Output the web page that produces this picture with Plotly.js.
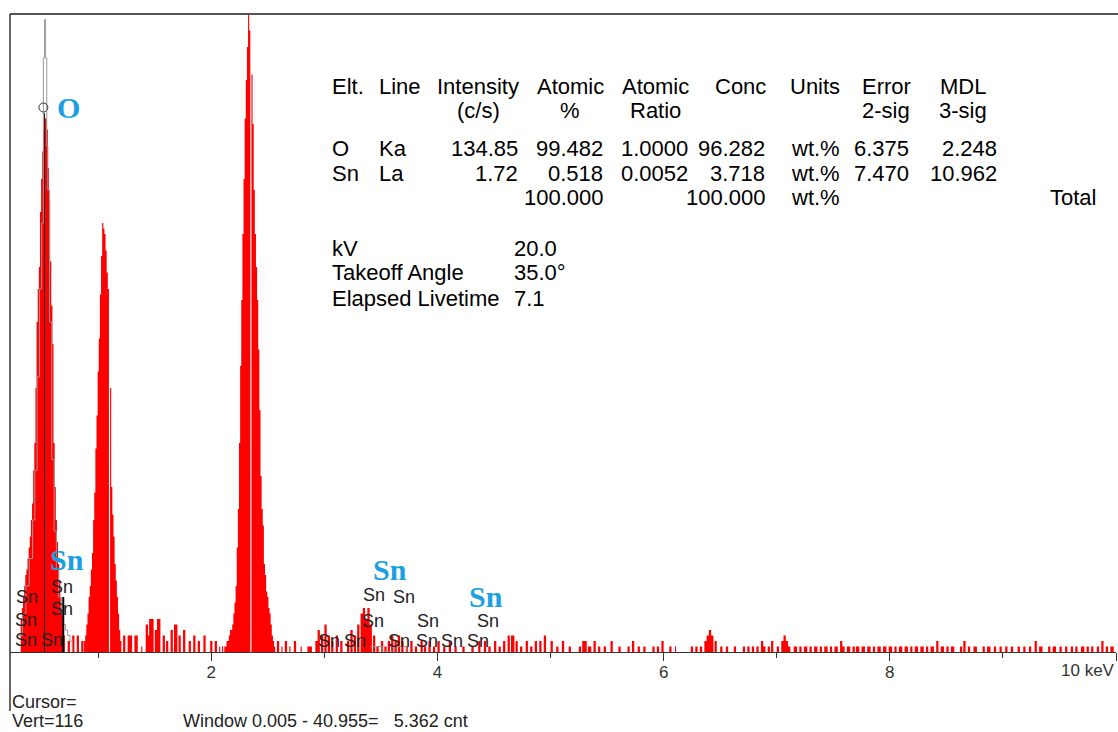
<!DOCTYPE html>
<html>
<head>
<meta charset="utf-8">
<script src="https://cdn.plot.ly/plotly-3.0.1.min.js"></script>
<style>
  html, body { margin: 0; padding: 0; background: #fff; }
  #chart { width: 1118px; height: 732px; }
</style>
</head>
<body>
<div id="chart"></div>
<script>
// ---------------- Spectrum data (energy in keV, counts per 10 eV channel) ----------------
// O K-alpha peak
const oPeakE = [0.32,0.33,0.34,0.35,0.36,0.37,0.38,0.39,0.40,0.41,0.42,0.43,0.44,0.45,0.46,0.47,0.48,0.49,0.50,0.51,
                0.52,0.53,0.54,0.55,0.56,0.57,0.58,0.59,0.60,0.61,0.62,0.63,0.64,0.65,0.66,0.67,0.68,0.69,0.70];
const oPeakCounts = [6,8,10,12,14,15,17,19,21,24,27,33,38,48,60,66,70,80,86,91,
                     95,97,97,95,88,82,71,63,56,38,30,24,20,16,13,10,7,5,3];

// peak near 1.05 keV
const naPeakE = [0.88,0.89,0.90,0.91,0.92,0.93,0.94,0.95,0.96,0.97,0.98,0.99,1.00,1.01,1.02,1.03,1.04,
                 1.05,1.06,1.07,1.08,1.09,1.10,1.11,1.12,1.13,1.14,1.15,1.16,1.17,1.18,1.19,1.20];
const naPeakCounts = [2,3,5,7,10,12,15,18,24,29,37,43,51,57,65,72,78,
                      77,76,73,69,66,0,48,30,25,21,16,13,10,7,4,2];

// peak near 2.33 keV (top runs off scale)
const sPeakE = [2.10,2.11,2.12,2.13,2.14,2.15,2.16,2.17,2.18,2.19,2.20,2.21,2.22,2.23,2.24,2.25,2.26,2.27,2.28,2.29,
                2.30,2.31,2.32,2.33,2.34,2.35,2.36,2.37,2.38,2.39,2.40,2.41,2.42,2.43,2.44,2.45,2.46,2.47,2.48,2.49,
                2.50,2.51,2.52,2.53,2.54,2.55,2.56];
const sPeakCounts = [1,0,1,1,2,2,3,4,4,5,7,9,12,19,26,38,52,64,76,86,
                     97,104,110,128,113,0,105,96,84,76,70,64,55,44,32,26,23,16,14,11,
                     10,8,7,5,3,2,1];

// background: runs of channels [start keV, end keV, counts]
const bgLow = [
  [0.73,0.75,2],[0.77,0.79,3],[0.81,0.83,3],[0.85,0.87,2],
  [1.22,1.24,3],[1.26,1.30,3],[1.32,1.35,3],[1.38,1.39,1],[1.42,1.44,5],[1.44,1.45,3],
  [1.45,1.49,6],[1.50,1.52,4],[1.52,1.55,6],[1.57,1.59,3],[1.60,1.62,2],[1.64,1.66,4],
  [1.67,1.70,5],[1.71,1.73,3],[1.75,1.77,4],[1.80,1.82,2],[1.84,1.86,3],[1.88,1.90,2],
  [1.93,1.95,3],[1.99,2.01,2],[2.03,2.05,2],[2.07,2.08,1]
];
const bgMid = [
  [2.58,2.60,2],[2.62,2.63,1],[2.65,2.67,2],[2.69,2.70,1],[2.73,2.75,2],[2.79,2.80,1],
  [2.85,2.89,1],[2.92,2.94,2],[2.94,2.96,4],[2.97,2.99,3],[3.00,3.02,5],[3.03,3.05,3],
  [3.06,3.08,2],[3.10,3.12,3],[3.14,3.16,2],[3.20,3.22,2],[3.23,3.25,4],[3.26,3.28,3],
  [3.29,3.31,5],[3.32,3.34,7],[3.34,3.36,8],[3.36,3.38,6],[3.38,3.40,8],[3.40,3.42,5],
  [3.43,3.45,3],[3.46,3.48,1],[3.50,3.52,2],[3.53,3.55,1],[3.56,3.58,2],[3.59,3.61,3],
  [3.62,3.64,2],[3.65,3.67,3],[3.68,3.70,2],[3.72,3.74,1],[3.76,3.78,2],[3.80,3.82,1],
  [3.85,3.87,2],[3.88,3.90,1],[3.92,3.94,2],[3.96,3.98,1],[4.00,4.02,2],[4.05,4.07,1],
  [4.10,4.12,2],[4.15,4.17,1],[4.22,4.24,1],[4.30,4.32,1],[4.36,4.38,2],[4.41,4.43,2],
  [4.45,4.47,1],[4.50,4.52,2],[4.54,4.56,1],[4.58,4.60,2],[4.62,4.64,3],[4.65,4.68,3],
  [4.69,4.71,2],[4.73,4.75,1],[4.78,4.80,2],[4.82,4.84,1],[4.86,4.88,2],[4.90,4.92,2],
  [4.94,4.96,3]
];
const bgHigh = [
  [5.00,5.02,2],[5.05,5.07,1],[5.10,5.12,2],[5.16,5.18,1],[5.25,5.27,1],[5.28,5.32,2],
  [5.33,5.36,1],[5.38,5.40,2],[5.42,5.44,1],[5.47,5.49,1],[5.53,5.55,2],[5.60,5.62,1],
  [5.68,5.70,1],[5.72,5.74,2],[5.77,5.79,1],[5.82,5.84,1],[5.90,5.92,1],[5.94,5.96,1],
  [5.98,6.00,2],[6.05,6.07,1],[6.10,6.11,1],[6.24,6.26,1],[6.28,6.30,1],[6.32,6.34,1],
  [6.36,6.38,2],[6.38,6.40,3],[6.40,6.42,4],[6.42,6.44,3],[6.45,6.47,2],[6.50,6.52,1],
  [6.55,6.57,1],[6.62,6.64,1],[6.70,6.72,1],[6.74,6.76,1],[6.78,6.80,1],[6.82,6.84,1],
  [6.86,6.88,2],[6.88,6.90,1],[6.92,6.94,1],[6.95,6.97,2],[7.00,7.02,1],[7.04,7.06,2],
  [7.06,7.08,3],[7.08,7.10,2],[7.10,7.12,1],[7.15,7.18,1],[7.20,7.22,1],[7.24,7.27,1],
  [7.29,7.31,1],[7.33,7.36,1],[7.38,7.40,1],[7.42,7.45,1],[7.47,7.49,1],[7.51,7.54,1],
  [7.56,7.58,2],[7.58,7.60,1],[7.62,7.65,1],[7.67,7.69,1],[7.70,7.73,1],[7.75,7.78,1],
  [7.80,7.83,1],[7.85,7.87,1],[7.89,7.92,1],[7.94,7.97,1],[7.99,8.02,1],[8.04,8.06,1],
  [8.08,8.11,1],[8.13,8.16,1],[8.18,8.20,1],[8.22,8.25,1],[8.27,8.30,1],[8.32,8.34,1],
  [8.36,8.39,1],[8.41,8.43,2],[8.45,8.48,1],[8.50,8.52,1],[8.54,8.57,1],[8.62,8.64,1],
  [8.65,8.67,2],[8.69,8.71,1],[8.74,8.77,1],[8.82,8.84,1],[8.86,8.89,1],[8.92,8.94,1],
  [8.97,8.99,1],[9.02,9.04,1],[9.07,9.09,1],[9.13,9.15,1],[9.18,9.20,1],[9.23,9.25,1],
  [9.28,9.30,2],[9.32,9.35,1],[9.40,9.42,1],[9.44,9.47,1],[9.50,9.52,1],[9.55,9.57,1],
  [9.60,9.62,1],[9.64,9.66,1],[9.69,9.72,1],[9.74,9.76,1],[9.78,9.80,1],[9.83,9.85,1],
  [9.87,9.89,2],[9.91,9.93,1],[9.95,9.98,1]
];

// reference outline (grey step trace) around O K and Sn L
const greyE = [0.30,0.33,0.36,0.39,0.42,0.44,0.46,0.48,0.50,0.515,0.525,0.535,0.545,0.555,0.57,0.59,0.61,0.63,0.65,0.67,0.69,0.71,0.73,0.75,0.77];
const greyCounts = [3,7,12,17,24,33,50,66,78,108,115,108,92,84,60,35,22,15,10,7,5,4,3,2,0];
const greySnE = [3.41,3.51,3.61,3.73];
const greySnCounts = [1,0,1,0];

// line markers (energy keV, marker height in counts)
const markerE = [0.525, 0.691];
const markerTop = [98, 10];
const oMarkE = 0.515, oMarkCounts = 99;

// line labels
const snLabelE = [0.37,0.36,0.36,0.59,0.68,0.68,3.44,3.70,3.43,3.92,4.45,3.04,3.27,3.66,3.91,4.13,4.36];
const elemLabels = ['O','Sn','Sn','Sn'];
const elemLabelE = [0.628,0.566,3.425,4.274];

// quantification table
const tableHead1 = ['Elt.','Line','Intensity','Atomic','Atomic','Conc','Units','Error','MDL'];
const tableHead2 = ['','','(c/s)','%','Ratio','','','2-sig','3-sig'];
const elements = ['O','Sn'];
const xrayLines = ['Ka','La'];
const intensity = ['134.85','1.72'];
const atomicPct = ['99.482','0.518'];
const atomicRatio = ['1.0000','0.0052'];
const conc = ['96.282','3.718'];
const units = ['wt.%','wt.%'];
const error2sig = ['6.375','7.470'];
const mdl3sig = ['2.248','10.962'];
const atomicTotal = '100.000', concTotal = '100.000', totalUnits = 'wt.%', totalLabel = 'Total';

const acqLabels = ['kV','Takeoff Angle','Elapsed Livetime'];
const acqValues = ['20.0','35.0\u00b0','7.1'];

const tickVals = [2,4,6,8,10];
const tickText = ['2','4','6','8',''];
const minorTickVals = [1,3,5,7,9];
const xUnitLabel = '10 keV';
const cursorText = ['Cursor=', 'Vert=116', 'Window 0.005 - 40.955=\u00a0\u00a0 5.362 cnt'];

// ---------------- build step outline for the filled spectrum ----------------
const segs = [];
[[oPeakE,oPeakCounts],[naPeakE,naPeakCounts],[sPeakE,sPeakCounts]].forEach(([e,c]) => {
  e.forEach((v,i) => segs.push([v-0.005, v+0.005, c[i]]));
});
bgLow.concat(bgMid, bgHigh).forEach(r => segs.push(r));
segs.sort((a,b) => a[0]-b[0]);
const specX = [0.2], specY = [0];
segs.forEach((s,i) => {
  specX.push(s[0]); specY.push(s[2]);
  const nxt = segs[i+1];
  if (!nxt || nxt[0] > s[1] + 1e-6) { specX.push(s[1]); specY.push(0); }
});
specX.push(10.05); specY.push(0);

// ---------------- geometry helpers ----------------
const X_RANGE = [0.22, 10.0], Y_RANGE = [0, 116];
const L = 10, R = 1116, T = 14, B = 652;
const px = x => (x - L) / (R - L);
const py = y => (B - y) / (B - T);
const SANS = 'Liberation Sans, Arial, sans-serif';
const SERIF = 'Liberation Serif, Times New Roman, serif';
const BLUE = '#1b9fe2';

const traces = [
  { x: specX, y: specY, type: 'scatter', mode: 'lines', line: {shape: 'hv', width: 0, color: '#ff0000'},
    fill: 'tozeroy', fillcolor: '#ff0000', hoverinfo: 'skip' },
  { x: greyE, y: greyCounts, type: 'scatter', mode: 'lines', line: {shape: 'hv', width: 1, color: '#9a9a9a'}, hoverinfo: 'skip' },
  { x: greySnE, y: greySnCounts, type: 'scatter', mode: 'lines', line: {shape: 'hv', width: 1, color: '#9a9a9a'}, hoverinfo: 'skip' },
  { x: [markerE[0], markerE[0]], y: [0, markerTop[0]], type: 'scatter', mode: 'lines', line: {width: 1, color: '#222'}, hoverinfo: 'skip' },
  { x: [markerE[1], markerE[1]], y: [0, markerTop[1]], type: 'scatter', mode: 'lines', line: {width: 2, color: '#000'}, hoverinfo: 'skip' },
  { x: [oMarkE], y: [oMarkCounts], type: 'scatter', mode: 'markers',
    marker: {symbol: 'circle-open', size: 9, color: '#333', line: {width: 1, color: '#333'}}, hoverinfo: 'skip' }
];

const ann = [];
function txt(text, x, y, anchor, size, color, family) {
  ann.push({ text, xref: 'paper', yref: 'paper', x: px(x), y: py(y), xanchor: anchor, yanchor: 'middle',
             showarrow: false, borderpad: 0, font: {family: family || SANS, size: size || 22, color: color || '#000'} });
}

// table header
const headX = [331,378,478,570,655,740,815,886,963];
const headAnchor = ['left','left','center','center','center','center','center','center','center'];
tableHead1.forEach((t,i) => txt(t, headX[i], 87, headAnchor[i]));
tableHead2.forEach((t,i) => { if (t) txt(t, headX[i], 111, headAnchor[i]); });

// table rows
const rowY = [148, 173];
elements.forEach((el,i) => {
  const y = rowY[i];
  txt(el, 331, y, 'left');
  txt(xrayLines[i], 378, y, 'left');
  txt(intensity[i], 519, y, 'right');
  txt(atomicPct[i], 604, y, 'right');
  txt(atomicRatio[i], 689, y, 'right');
  txt(conc[i], 766, y, 'right');
  txt(units[i], 790, y, 'left');
  txt(error2sig[i], 910, y, 'right');
  txt(mdl3sig[i], 998, y, 'right');
});
txt(atomicTotal, 605, 198, 'right');
txt(concTotal, 767, 198, 'right');
txt(totalUnits, 790, 198, 'left');
txt(totalLabel, 1049, 198, 'left');

// acquisition conditions
acqLabels.forEach((t,i) => { txt(t, 331, 248 + 25*i, 'left'); txt(acqValues[i], 513, 248 + 25*i, 'left'); });

// cursor readout
txt(cursorText[0], 11, 702, 'left', 18, '#222');
txt(cursorText[1], 11, 721, 'left', 18, '#222');
txt(cursorText[2], 182, 721, 'left', 18, '#222');

// line labels on the spectrum
const snLabelRowPx = [597,620,640,640,587,609,595,597,621,621,621,641,641,641,641,641,641];
snLabelE.forEach((e,i) => ann.push({ text: 'Sn', xref: 'x', yref: 'paper', x: e, y: py(snLabelRowPx[i]),
  xanchor: 'center', yanchor: 'middle', showarrow: false, borderpad: 0, font: {family: SANS, size: 18, color: '#222'} }));
const elemLabelRowPx = [107,559,569,596];
elemLabels.forEach((t,i) => ann.push({ text: '<b>' + t + '</b>', xref: 'x', yref: 'paper', x: elemLabelE[i], y: py(elemLabelRowPx[i]),
  xanchor: 'left', yanchor: 'middle', showarrow: false, borderpad: 0, font: {family: SERIF, size: 30, color: BLUE} }));

// axis unit label at the last tick
ann.push({ text: xUnitLabel, xref: 'x', yref: 'paper', x: 10, y: py(670), xanchor: 'right', yanchor: 'middle',
  showarrow: false, borderpad: 0, font: {family: SANS, size: 17, color: '#333'} });

const layout = {
  width: 1118, height: 732,
  margin: {l: L, r: 1118 - R, t: T, b: 732 - B},
  paper_bgcolor: '#fff', plot_bgcolor: '#fff',
  showlegend: false,
  xaxis: {
    range: X_RANGE, showgrid: false, zeroline: false,
    showline: true, linecolor: '#333', linewidth: 1,
    ticks: 'outside', ticklen: 8, tickwidth: 1, tickcolor: '#333',
    tickmode: 'array', tickvals: tickVals, ticktext: tickText,
    tickfont: {family: SANS, size: 17, color: '#333'},
    ticklabelstandoff: -3,
    minor: {tickmode: 'array', tickvals: minorTickVals, ticks: 'outside', ticklen: 5, tickwidth: 1, tickcolor: '#333'}
  },
  yaxis: { range: Y_RANGE, visible: false, fixedrange: true },
  shapes: [
    {type: 'line', xref: 'paper', yref: 'paper', x0: px(10), x1: px(1118), y0: 1, y1: 1, line: {color: '#555', width: 2}},
    {type: 'line', xref: 'paper', yref: 'paper', x0: 0, x1: 0, y0: py(711), y1: 1, line: {color: '#333', width: 1.5}}
  ],
  annotations: ann
};

Plotly.newPlot('chart', traces, layout, {displayModeBar: false, staticPlot: true});
</script>
</body>
</html>
